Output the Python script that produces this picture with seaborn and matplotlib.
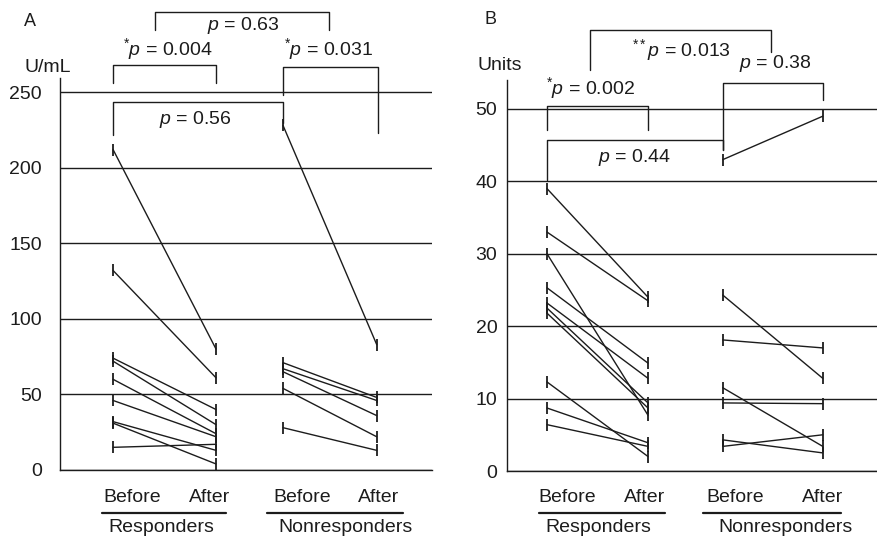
import pandas as pd
import matplotlib
matplotlib.use("Agg")
import matplotlib.pyplot as plt
from matplotlib.lines import Line2D
import seaborn as sns

sns.set_style("white")
plt.rcParams['font.family'] = ['Liberation Sans', 'DejaVu Sans']
plt.rcParams['mathtext.fontset'] = 'custom'
plt.rcParams['mathtext.rm'] = 'Liberation Sans'
plt.rcParams['mathtext.it'] = 'Liberation Sans:italic'

# panel A, U/mL (before -> after, one entry per patient)
a_resp_before = [212, 132, 74, 72, 60, 46, 32, 31, 15]
a_resp_after = [80, 61, 40, 30, 24, 22, 13, 4, 17]
a_non_before = [228, 71, 67, 65, 54, 28]
a_non_after = [83, 48, 46, 36, 22, 13]

# panel B, Units
b_resp_before = [39, 33, 30, 25.3, 23.2, 22.5, 21.8, 12.3, 8.7, 6.4]
b_resp_after = [24, 23.5, 7.7, 14.9, 12.8, 9.4, 8.7, 2.0, 3.9, 3.4]
b_non_before = [43, 24.3, 18.1, 11.5, 9.4, 4.3, 3.4]
b_non_after = [49, 12.8, 17, 3.4, 9.3, 2.5, 5.0]

a_yticks = [0, 50, 100, 150, 200, 250]
b_yticks = [0, 10, 20, 30, 40, 50]

INK = "#1c1c1c"
W, H = 877, 539


def long_table(resp_b, resp_a, non_b, non_a, xpos):
    rows = []
    for grp, bef, aft, xs in [("Responders", resp_b, resp_a, xpos[:2]),
                              ("Nonresponders", non_b, non_a, xpos[2:])]:
        for i, (b, a) in enumerate(zip(bef, aft)):
            rows.append((grp, f"{grp}{i}", xs[0], b))
            rows.append((grp, f"{grp}{i}", xs[1], a))
    return pd.DataFrame(rows, columns=["group", "subject", "x", "value"])


df_a = long_table(a_resp_before, a_resp_after, a_non_before, a_non_after,
                  [0, 1, 1.65, 2.56])
df_b = long_table(b_resp_before, b_resp_after, b_non_before, b_non_after,
                  [0, 1, 1.74, 2.73])

fig = plt.figure(figsize=(8.77, 5.39), dpi=100)
ax_a = fig.add_axes([60 / W, 69 / H, 372 / W, 392 / H])
ax_b = fig.add_axes([507 / W, 68 / H, 370 / W, 391 / H])

panels = [
    (ax_a, df_a, a_yticks, (0, 259.3), (-0.515, 3.097), 13),
    (ax_b, df_b, b_yticks, (0, 54), (-0.396, 3.267), 7),
]
for ax, df, yt, ylim, xlim, pad in panels:
    sns.lineplot(data=df, x="x", y="value", units="subject", estimator=None,
                 color=INK, linewidth=1.0, marker="|", markersize=9,
                 markeredgewidth=1.3, markeredgecolor=INK, legend=False, ax=ax)
    ax.set_xlim(xlim)
    ax.set_ylim(ylim)
    ax.set_yticks(yt)
    ax.set_xticks([])
    ax.set_xlabel("")
    ax.set_ylabel("")
    ax.grid(axis="y", color=INK, linewidth=1.0)
    ax.set_axisbelow(True)
    for s in ["top", "right"]:
        ax.spines[s].set_visible(False)
    for s in ["left", "bottom"]:
        ax.spines[s].set_color(INK)
        ax.spines[s].set_linewidth(1.0)
    ax.tick_params(axis="y", length=0, pad=pad, labelsize=14, colors=INK)
    ax.patch.set_alpha(0)


def ftext(x, y, s, size=14, ha="center"):
    fig.text(x / W, 1 - y / H, s, ha=ha, va="center", fontsize=size, color=INK)


def fline(xs, ys, lw=1.0):
    fig.add_artist(Line2D([x / W for x in xs], [1 - y / H for y in ys],
                          color=INK, linewidth=lw))


def bracket(x0, x1, top, left_end, right_end):
    fline([x0, x0, x1, x1], [left_end, top, top, right_end])


# panel letters and units
ftext(30, 22, "A", 13)
ftext(490, 20, "B", 13)
ftext(48, 67, "U/mL")
ftext(500, 65, "Units")

# comparison brackets, panel A
bracket(155, 329, 12, 30, 30)
ftext(243, 25, r"$\mathit{p}$ = 0.63")
ftext(168, 49, r"$^{*}\mathit{p}$ = 0.004")
bracket(113, 216, 65, 83, 83)
ftext(328, 49, r"$^{*}\mathit{p}$ = 0.031")
bracket(283, 378, 67, 95, 133)
bracket(113, 283, 102, 135, 123)
ftext(195, 120, r"$\mathit{p}$ = 0.56")

# comparison brackets, panel B
bracket(590, 771, 30, 70, 52)
ftext(681, 50, r"$^{**}\mathit{p}$ = 0.013")
bracket(723, 823, 83, 150, 100)
ftext(775, 63, r"$\mathit{p}$ = 0.38")
bracket(547, 648, 106, 130, 130)
ftext(590, 88, r"$^{*}\mathit{p}$ = 0.002")
bracket(547, 723, 140, 180, 150)
ftext(635, 157, r"$\mathit{p}$ = 0.44")

# category labels under the axes
for xb, xa, x0, x1, xg, grp in [
    (132, 210, 102, 226, 161, "Responders"),
    (302, 379, 267, 403, 346, "Nonresponders"),
    (567, 645, 539, 665, 598, "Responders"),
    (735, 823, 703, 841, 785, "Nonresponders"),
]:
    ftext(xb, 497, "Before")
    ftext(xa, 497, "After")
    fline([x0, x1], [513, 513], lw=1.6)
    ftext(xg, 528, grp)

fig.savefig("out.png", dpi=100)
